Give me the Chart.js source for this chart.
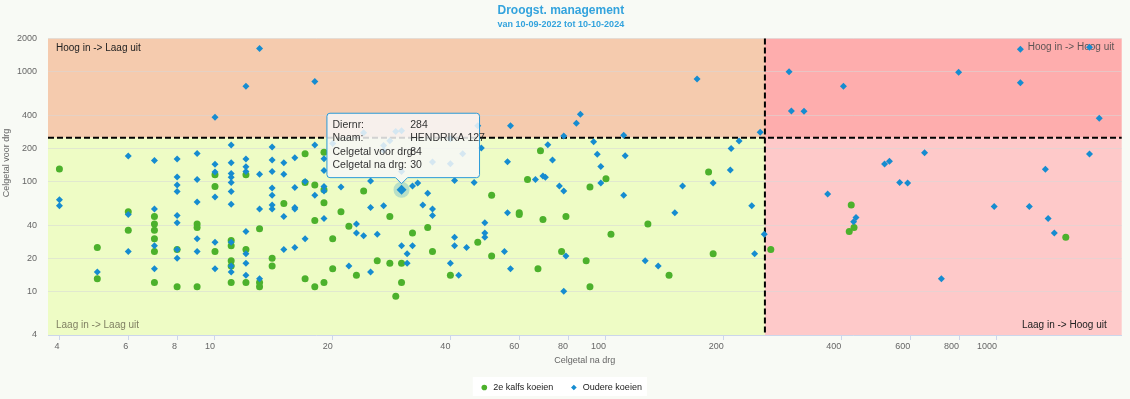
<!DOCTYPE html>
<html>
<head>
<meta charset="utf-8">
<title>Droogst. management</title>
<script src="https://cdn.jsdelivr.net/npm/chart.js@4.4.1/dist/chart.umd.min.js"></script>
<style>
    html, body { margin: 0; padding: 0; background: #f8faf5; }
    #wrap { width: 1130px; height: 399px; position: relative; }
</style>
</head>
<body>
<div id="wrap"><canvas id="grafiekDroogzet"></canvas></div>
<script>
// --- DATA ---
const titel = 'Droogst. management';
const subtitel = 'van 10-09-2022 tot 10-10-2024';
const xTitel = 'Celgetal na drg';
const yTitel = 'Celgetal voor drg';

const xTicks = [4, 6, 8, 10, 20, 40, 60, 80, 100, 200, 400, 600, 800, 1000];
const yTicks = [4, 10, 20, 40, 100, 200, 400, 1000, 2000];

// grenzen van de kwadranten
const grensNa = 255;
const grensVoor = 250;
const kwadrantTeksten = ['Hoog in -> Laag uit', 'Hoog in -> Hoog uit', 'Laag in -> Laag uit', 'Laag in -> Hoog uit'];

// [celgetal na drg, celgetal voor drg]
const tweedeKalfs = [
    [4,130],[10,115],[12,115],[10,90],[6,53],[7,48],[7,41],[9,41],[9,38],[6,36],[7,36],[13,37],[7,30],[11,29],[11,26],
    [5,25],[7,23],[8,24],[10,23],[12,24],[11,19],[11,17],[5,13],[7,12],[8,11],[9,11],[11,12],[12,12],[13,12],[13,11],
    [17,179],[19,184],[17,98],[18,93],[19,84],[19,64],[24,82],[15,63],[18,44],[21,53],[22,39],[28,48],[35,38],[32,34],
    [20,30],[47,28],[36,23],[14,20],[14,17],[20,16],[26,19],[28,18],[30,18],[23,14],[17,13],[18,11],[19,12],[30,12],
    [29,9],[40,14],[68,190],[183,122],[63,104],[100,106],[91,89],[51,75],[60,52],[60,50],[69,45],[79,48],[128,41],
    [103,33],[264,24],[51,21],[77,23],[188,22],[89,19],[67,16],[145,14],[91,11],[424,61],[431,38],[419,35],[1500,31]
];

const oudereKoeien = [
    [11,215],[6,170],[7,155],[8,160],[9,180],[10,143],[11,148],[12,160],[12,136],[8,110],[9,104],[10,122],[11,118],
    [11,109],[11,98],[12,123],[13,116],[8,93],[8,81],[11,81],[10,72],[4,68],[4,60],[9,65],[11,62],[7,56],[6,50],
    [13,56],[8,49],[8,42],[12,35],[9,30],[10,28],[11,28],[7,26],[8,24],[6,23],[9,23],[12,22],[8,20],[12,18],[7,16],
    [10,16],[11,17],[11,15],[5,15],[12,14],[13,13],
    [13,1620],[12,735],[18,810],[10,384],
    [24,278],[29,285],[30,290],[28,235],[27,212],[40,244],[43,179],[36,150],[40,145],[30,123],[20,222],[27,191],
    [14,206],[18,215],[14,157],[15,148],[16,164],[19,161],[14,123],[15,116],[19,126],[17,100],[19,90],[19,82],
    [18,75],[16,88],[14,87],[14,75],[21,89],[25,101],[30,84],[32,91],[33,97],[35,78],[41,102],[46,98],[14,61],
    [14,56],[16,58],[16,56],[15,48],[19,46],[25,58],[27,60],[34,61],[36,56],[36,49],[23,41],[23,34],[24,32],
    [26,33],[17,30],[16,25],[15,24],[30,26],[32,26],[31,22],[31,18],[22,17],[25,15],[41,31],[41,26],[44,25],
    [40,18],[42,14],[49,42],[49,34],[49,31],[47,322],[48,202],
    [171,856],[57,322],[86,408],[84,338],[78,259],[111,263],[248,280],[71,216],[93,230],[219,233],[209,199],
    [56,151],[73,157],[95,177],[112,171],[97,137],[208,127],[66,104],[69,112],[70,109],[97,97],[188,97],[76,91],
    [157,91],[78,82],[111,75],[236,60],[56,52],[150,52],[254,33],[55,23],[79,21],[240,22],[126,19],[136,17],
    [57,16],[78,10],
    [294,997],[298,438],[321,435],[405,735],[798,984],[1148,1595],[1148,792],[1725,1663],[1827,376],[1725,178],
    [653,182],[516,144],[531,153],[1330,129],[564,98],[591,97],[369,77],[436,47],[430,43],[721,13],[984,59],
    [1210,59],[1352,46],[1402,34]
];

// koe onder de muis
const tooltipKoe = { diernr: 284, naam: 'HENDRIKA 127', na: 30, voor: 84 };
const tipIndex = oudereKoeien.findIndex(p => p[0] === tooltipKoe.na && p[1] === tooltipKoe.voor);

const FONT = "'Liberation Sans', Arial, sans-serif";
Chart.defaults.font.family = FONT;

//      KWADRANTEN + LEGENDA ACHTERGROND
const kwadrantPlugin = {
    id: 'kwadranten',
    beforeDraw(chart) {
        const { ctx, chartArea: a, scales } = chart;
        const gx = scales.x.getPixelForValue(grensNa);
        const gy = scales.y.getPixelForValue(grensVoor);
        ctx.save();
        ctx.fillStyle = '#f5cbae'; ctx.fillRect(a.left, a.top, gx - a.left, gy - a.top);
        ctx.fillStyle = '#feadad'; ctx.fillRect(gx, a.top, a.right - gx, gy - a.top);
        ctx.fillStyle = '#eefcc5'; ctx.fillRect(a.left, gy, gx - a.left, a.bottom - gy);
        ctx.fillStyle = '#fec9c9'; ctx.fillRect(gx, gy, a.right - gx, a.bottom - gy);

        // witte legenda box
        const hb = chart.legend.legendHitBoxes;
        if (hb && hb.length) {
            const last = hb[hb.length - 1];
            ctx.fillStyle = '#ffffff';
            ctx.fillRect(hb[0].left - 7, hb[0].top - 6, last.left + last.width + 5 - (hb[0].left - 7), 19);
        }

        // y-as titel (iets boven het midden, zoals het origineel)
        ctx.translate(7, 163);
        ctx.rotate(-Math.PI / 2);
        ctx.font = '9px ' + FONT;
        ctx.fillStyle = '#666';
        ctx.textAlign = 'center';
        ctx.textBaseline = 'middle';
        ctx.fillText(yTitel, 0, 0);
        ctx.restore();
    },
    beforeDatasetsDraw(chart) {
        const { ctx, chartArea: a, scales } = chart;
        const gx = scales.x.getPixelForValue(grensNa);
        const gy = scales.y.getPixelForValue(grensVoor);
        ctx.save();
        ctx.strokeStyle = '#000';
        ctx.lineWidth = 2;
        ctx.setLineDash([6, 3]);
        ctx.beginPath();
        ctx.moveTo(a.left, gy); ctx.lineTo(a.right, gy);
        ctx.moveTo(gx, a.top); ctx.lineTo(gx, a.bottom);
        ctx.stroke();
        ctx.setLineDash([]);

        ctx.font = '10px ' + FONT;
        ctx.textBaseline = 'middle';
        ctx.textAlign = 'left';
        ctx.fillStyle = '#222';
        ctx.fillText(kwadrantTeksten[0], a.left + 8, a.top + 10);
        ctx.fillStyle = '#7f7f62';
        ctx.fillText(kwadrantTeksten[2], a.left + 8, a.bottom - 9.5);
        ctx.textAlign = 'right';
        ctx.fillStyle = '#5e5555';
        ctx.fillText(kwadrantTeksten[1], a.right - 7.5, a.top + 9);
        ctx.fillStyle = '#222';
        ctx.fillText(kwadrantTeksten[3], a.right - 15, a.bottom - 10);

        // halo rond het actieve punt
        const el = chart.getDatasetMeta(1).data[tipIndex];
        if (el) {
            ctx.fillStyle = 'rgba(22,140,208,0.25)';
            ctx.beginPath();
            ctx.arc(el.x, el.y, 8, 0, Math.PI * 2);
            ctx.fill();
        }
        ctx.restore();
    },
    afterDraw(chart) {
        const el = chart.getDatasetMeta(1).data[tipIndex];
        if (!el) return;
        const { ctx } = chart;
        const w = 152.6, h = 64.4, r = 3;
        const l = el.x - 74.6, t = el.y - 76.5;
        const px = el.x;

        ctx.save();
        ctx.beginPath();
        ctx.moveTo(l + r, t);
        ctx.lineTo(l + w - r, t); ctx.arcTo(l + w, t, l + w, t + r, r);
        ctx.lineTo(l + w, t + h - r); ctx.arcTo(l + w, t + h, l + w - r, t + h, r);
        ctx.lineTo(px + 6, t + h); ctx.lineTo(px, t + h + 6); ctx.lineTo(px - 6, t + h);
        ctx.lineTo(l + r, t + h); ctx.arcTo(l, t + h, l, t + h - r, r);
        ctx.lineTo(l, t + r); ctx.arcTo(l, t, l + r, t, r);
        ctx.closePath();
        ctx.fillStyle = 'rgba(247,247,247,0.85)';
        ctx.fill();
        ctx.strokeStyle = '#2a9bd8';
        ctx.lineWidth = 1;
        ctx.stroke();

        const rijen = [
            ['Diernr:', String(tooltipKoe.diernr)],
            ['Naam:', tooltipKoe.naam],
            ['Celgetal voor drg:', String(tooltipKoe.voor)],
            ['Celgetal na drg:', String(tooltipKoe.na)]
        ];
        ctx.font = '10.5px ' + FONT;
        ctx.fillStyle = '#333';
        ctx.textBaseline = 'middle';
        ctx.textAlign = 'left';
        rijen.forEach((rij, i) => {
            const y = t + 11.7 + i * 13.4;
            ctx.fillText(rij[0], l + 5.6, y);
            ctx.fillText(rij[1], l + 83.3, y);
        });
        ctx.restore();
    }
};

//      GRAFIEK
const ctx = document.getElementById('grafiekDroogzet');

new Chart(ctx, {
    type: 'scatter',
    data: {
        datasets: [
            {
                label: '2e kalfs koeien',
                data: tweedeKalfs.map(p => ({ x: p[0], y: p[1] })),
                pointStyle: 'circle',
                pointRadius: 3.5,
                backgroundColor: '#4cb12c',
                borderColor: '#4cb12c',
                borderWidth: 0,
                order: 1
            },
            {
                label: 'Oudere koeien',
                data: oudereKoeien.map(p => ({ x: p[0], y: p[1] })),
                pointStyle: 'rectRot',
                pointRadius: c => c.dataIndex === tipIndex ? 5 : 3.5,
                backgroundColor: '#168cd0',
                borderColor: '#168cd0',
                borderWidth: 0,
                order: 0
            }
        ]
    },
    options: {
        responsive: true,
        maintainAspectRatio: false,
        animation: false,
        events: [],
        layout: { padding: { top: 0, left: 0, right: 8.3, bottom: -3 } },
        plugins: {
            title: {
                display: true,
                text: titel,
                color: '#33a3dd',
                font: { size: 12, weight: 'bold' },
                padding: { top: 3.8, bottom: 0 }
            },
            subtitle: {
                display: true,
                text: subtitel,
                color: '#33a3dd',
                font: { size: 9, weight: 'bold' },
                padding: { top: 1.1, bottom: 8.4 }
            },
            legend: {
                position: 'bottom',
                labels: {
                    usePointStyle: true,
                    boxWidth: 9,
                    boxHeight: 4,
                    padding: 16,
                    color: '#222',
                    font: { size: 9 },
                    sort: (a, b) => a.datasetIndex - b.datasetIndex
                }
            },
            tooltip: { enabled: false }
        },
        scales: {
            x: {
                type: 'logarithmic',
                min: 3.74,
                max: 2085,
                bounds: 'data',
                afterBuildTicks: s => { s.ticks = xTicks.map(v => ({ value: v })); },
                afterFit: s => { s.height = 32; },
                ticks: {
                    autoSkip: false,
                    maxRotation: 0,
                    align: 'end',
                    padding: 1,
                    color: '#666',
                    font: { size: 9 },
                    callback: v => String(v)
                },
                grid: { drawOnChartArea: false, drawTicks: true, tickLength: 5, color: '#ccd6eb' },
                border: { display: true, color: '#ccd6eb' },
                title: { display: true, text: xTitel, color: '#666', font: { size: 9 }, padding: { top: 0, bottom: 1.5 } }
            },
            y: {
                type: 'logarithmic',
                min: 4,
                max: 2000,
                bounds: 'data',
                afterBuildTicks: s => { s.ticks = yTicks.map(v => ({ value: v })); },
                afterFit: s => { s.width = 48; },
                ticks: {
                    autoSkip: false,
                    padding: 11,
                    color: '#666',
                    font: { size: 9 },
                    callback: v => String(v)
                },
                grid: { drawTicks: false, color: 'rgba(215,215,215,0.55)' },
                border: { display: false }
            }
        }
    },
    plugins: [kwadrantPlugin]
});
</script>
</body>
</html>
